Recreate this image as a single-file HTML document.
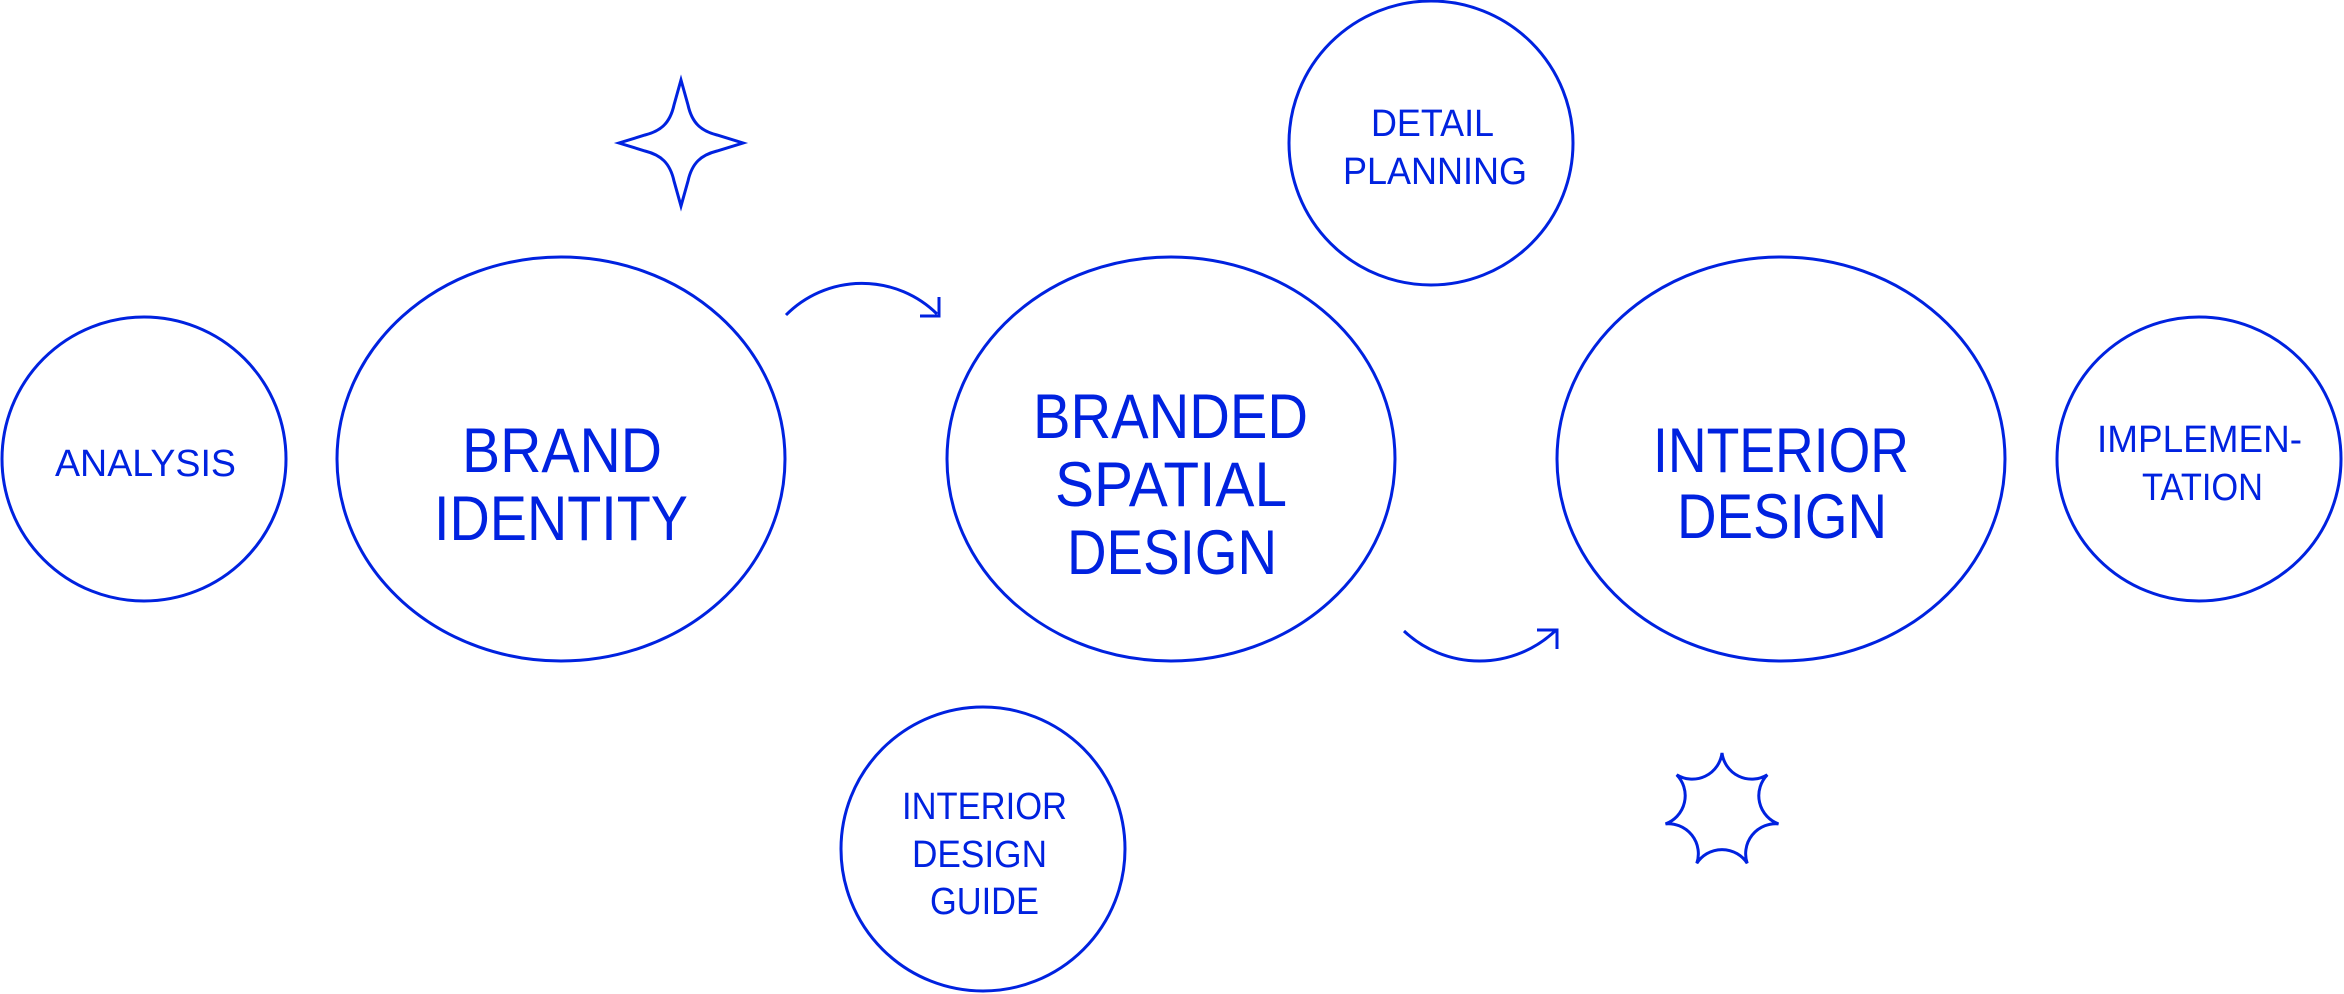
<!DOCTYPE html>
<html><head><meta charset="utf-8"><style>
html,body{margin:0;padding:0;background:#fff;}
svg{display:block;}
text{font-family:"Liberation Sans",sans-serif;fill:#0022e0;}
</style></head><body>
<svg width="2344" height="994" viewBox="0 0 2344 994" xmlns="http://www.w3.org/2000/svg">
<g fill="none" stroke="#0022e0" stroke-width="3">
<circle cx="144" cy="459" r="142"/>
<ellipse cx="561" cy="459" rx="224" ry="202"/>
<ellipse cx="1171" cy="459" rx="224" ry="202"/>
<ellipse cx="1781" cy="459" rx="224" ry="202"/>
<circle cx="2199" cy="459" r="142"/>
<circle cx="1431" cy="143" r="142"/>
<circle cx="983" cy="849" r="142"/>
<path transform="translate(681,143)" d="M0,-63 L7,-38 C11,-20 20,-12 36,-8 L62,0 L36,8 C20,12 11,20 7,38 L0,63 L-7,38 C-11,20 -20,12 -36,8 L-62,0 L-36,-8 C-20,-12 -11,-20 -7,-38 Z"/>
<path d="M1722,753 A30,30 0 0 0 1767.3,774.8 A30,30 0 0 0 1778.5,823.9 A30,30 0 0 0 1747.2,863.3 A30,30 0 0 0 1696.8,863.3 A30,30 0 0 0 1665.5,823.9 A30,30 0 0 0 1676.7,774.8 A30,30 0 0 0 1722,753 Z"/>
<path d="M786,315 A107,107 0 0 1 937,314"/>
<path d="M939,297 L939,316 L920,316"/>
<path d="M1404,631 A110,110 0 0 0 1555,631"/>
<path d="M1537,630 L1557,630 L1557,649"/>
</g>
<g font-size="38">
<text x="55" y="476" textLength="181" lengthAdjust="spacingAndGlyphs">ANALYSIS</text>
<text x="1371" y="136" textLength="123" lengthAdjust="spacingAndGlyphs">DETAIL</text>
<text x="1343" y="184" textLength="184" lengthAdjust="spacingAndGlyphs">PLANNING</text>
<text x="2097" y="452" textLength="205" lengthAdjust="spacingAndGlyphs">IMPLEMEN-</text>
<text x="2142" y="500" textLength="121" lengthAdjust="spacingAndGlyphs">TATION</text>
<text x="902" y="819" textLength="165" lengthAdjust="spacingAndGlyphs">INTERIOR</text>
<text x="912" y="867" textLength="135" lengthAdjust="spacingAndGlyphs">DESIGN</text>
<text x="930" y="914" textLength="109" lengthAdjust="spacingAndGlyphs">GUIDE</text>
</g>
<g font-size="63">
<text x="462" y="472" textLength="200" lengthAdjust="spacingAndGlyphs">BRAND</text>
<text x="434" y="540" textLength="254" lengthAdjust="spacingAndGlyphs">IDENTITY</text>
<text x="1033" y="438" textLength="275" lengthAdjust="spacingAndGlyphs">BRANDED</text>
<text x="1055" y="506" textLength="232" lengthAdjust="spacingAndGlyphs">SPATIAL</text>
<text x="1067" y="574" textLength="210" lengthAdjust="spacingAndGlyphs">DESIGN</text>
<text x="1653" y="472" textLength="256" lengthAdjust="spacingAndGlyphs">INTERIOR</text>
<text x="1677" y="538" textLength="210" lengthAdjust="spacingAndGlyphs">DESIGN</text>
</g>
</svg>
</body></html>
